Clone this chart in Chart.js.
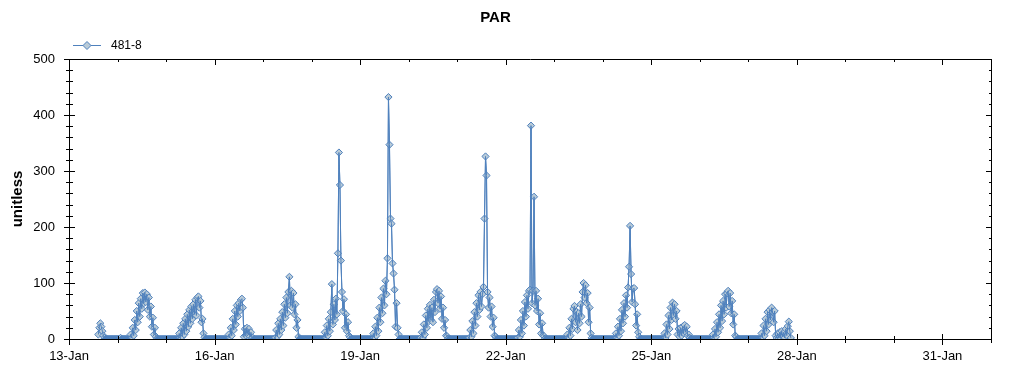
<!DOCTYPE html>
<html>
<head>
<meta charset="utf-8">
<title>PAR</title>
<script src="https://cdn.jsdelivr.net/npm/chart.js@4.4.1/dist/chart.umd.min.js"></script>
<style>
  html, body { margin: 0; padding: 0; background: #fff; }
  #chart { display: block; }
</style>
</head>
<body>
<canvas id="chart" width="1024" height="375"></canvas>
<script>
// ======================
// Data (half-hour readings, one array per day)
// ======================
const dayLabels = ["13-Jan", "14-Jan", "15-Jan", "16-Jan", "17-Jan", "18-Jan", "19-Jan",
  "20-Jan", "21-Jan", "22-Jan", "23-Jan", "24-Jan", "25-Jan", "26-Jan", "27-Jan",
  "28-Jan", "29-Jan", "30-Jan", "31-Jan", "1-Feb"];
const seriesName = "481-8";
const slotsPerDay = 48;
const firstSlot = 29; // logging starts 13-Jan 14:30

const par13 = [8, 20, 28, 22, 14, 6, 2, 0, 0, 0, 0, 0, 0, 0, 0, 0, 0, 0, 0];
const par14 = [
  0, 0, 0, 2, 0, 0, 0, 0, 0, 0, 0, 0,
  0, 8, 2, 20, 6, 34, 16, 50, 30, 64, 40, 72,
  54, 82, 64, 83, 66, 80, 52, 74, 40, 58, 22, 38,
  8, 20, 4, 1, 0, 0, 0, 0, 0, 0, 0, 0];
const par15 = [
  0, 0, 0, 0, 0, 0, 0, 0, 0, 0, 0, 0,
  0, 10, 2, 20, 4, 28, 8, 36, 14, 44, 22, 52,
  28, 58, 36, 62, 44, 70, 42, 74, 76, 56, 68, 30,
  36, 10, 3, 0, 0, 0, 0, 0, 0, 0, 0, 0];
const par16 = [
  0, 0, 0, 0, 0, 0, 0, 0, 0, 0, 0, 0,
  0, 0, 8, 2, 20, 6, 36, 16, 50, 26, 60, 40,
  64, 50, 70, 72, 56, 4, 18, 6, 20, 8, 18, 4,
  12, 2, 2, 0, 0, 0, 0, 0, 0, 0, 0, 0];
const par17 = [
  0, 0, 0, 0, 0, 0, 0, 0, 0, 0, 0, 0,
  2, 16, 4, 28, 8, 36, 16, 48, 24, 62, 38, 74,
  46, 84, 111, 60, 86, 56, 82, 44, 62, 20, 34, 4,
  0, 0, 0, 0, 0, 0, 0, 0, 0, 0, 0, 0];
const par18 = [
  0, 0, 0, 0, 0, 0, 0, 0, 0, 0, 0, 0,
  0, 12, 2, 24, 6, 36, 14, 48, 98, 26, 62, 34,
  72, 44, 153, 333, 275, 140, 84, 50, 71, 20, 44, 14,
  30, 6, 3, 0, 0, 0, 0, 0, 0, 0, 0, 0];
const par19 = [
  0, 0, 0, 0, 0, 0, 0, 0, 0, 0, 0, 0,
  0, 10, 2, 22, 6, 38, 14, 56, 30, 74, 46, 90,
  60, 104, 80, 144, 432, 347, 215, 206, 135, 117, 88, 22,
  64, 20, 8, 0, 0, 0, 0, 0, 0, 0, 0, 0];
const par20 = [
  0, 0, 0, 0, 0, 0, 0, 0, 0, 0, 0, 0,
  2, 12, 2, 26, 8, 42, 20, 54, 32, 61, 34, 56,
  30, 70, 48, 84, 89, 64, 86, 54, 76, 36, 56, 20,
  34, 6, 5, 1, 0, 0, 0, 0, 0, 0, 0, 0];
const par21 = [
  0, 0, 0, 0, 0, 0, 0, 0, 0, 0, 0, 0,
  2, 16, 4, 32, 10, 48, 24, 64, 40, 78, 52, 84,
  58, 80, 93, 215, 326, 292, 84, 56, 74, 40, 58, 22,
  38, 6, 4, 1, 0, 0, 0, 0, 0, 0, 0, 0];
const par22 = [
  0, 0, 0, 0, 0, 0, 0, 0, 0, 0, 0, 0,
  2, 16, 4, 34, 10, 50, 24, 66, 40, 78, 54, 86,
  88, 381, 64, 86, 254, 60, 86, 50, 72, 26, 46, 10,
  28, 6, 5, 1, 0, 0, 0, 0, 0, 0, 0, 0];
const par23 = [
  0, 0, 0, 0, 0, 0, 0, 0, 0, 0, 0, 0,
  0, 8, 2, 20, 6, 36, 18, 54, 59, 30, 48, 16,
  46, 28, 62, 40, 84, 100, 74, 96, 64, 82, 30, 56,
  10, 2, 0, 0, 0, 0, 0, 0, 0, 0, 0, 0];
const par24 = [
  0, 0, 0, 0, 0, 0, 0, 0, 0, 0, 0, 0,
  0, 10, 2, 22, 6, 36, 14, 52, 28, 64, 40, 78,
  56, 92, 129, 202, 116, 66, 90, 91, 62, 24, 44, 12,
  4, 0, 0, 0, 0, 0, 0, 0, 0, 0, 0, 0];
const par25 = [
  0, 0, 0, 0, 0, 0, 0, 0, 0, 0, 0, 0,
  0, 10, 2, 26, 8, 42, 18, 56, 34, 65, 42, 62,
  36, 50, 8, 18, 4, 20, 6, 22, 10, 25, 12, 22,
  6, 8, 2, 0, 0, 0, 0, 0, 0, 0, 0, 0];
const par26 = [
  0, 0, 0, 0, 0, 0, 0, 0, 0, 0, 0, 0,
  0, 8, 2, 18, 4, 30, 12, 44, 20, 60, 32, 68,
  44, 80, 56, 82, 86, 58, 82, 46, 68, 26, 44, 6,
  4, 0, 0, 0, 0, 0, 0, 0, 0, 0, 0, 0];
const par27 = [
  0, 0, 0, 0, 0, 0, 0, 0, 0, 0, 0, 0,
  0, 10, 2, 24, 6, 36, 14, 48, 26, 52, 34, 56,
  48, 30, 50, 6, 2, 10, 2, 12, 2, 14, 4, 12,
  2, 18, 6, 23, 31, 14, 2];

// ======================
// Styles
// ======================
const FONT = "'Liberation Sans', Arial, sans-serif";
const lineBlue = "#4f81bd";
const markerFill = "#b9cbd8";

const days = [par13, par14, par15, par16, par17, par18, par19, par20,
  par21, par22, par23, par24, par25, par26, par27];
const points = [];
days.forEach((vals, d) => {
  const start = d === 0 ? firstSlot : 0;
  vals.forEach((v, i) => points.push({ x: d + (start + i) / slotsPerDay, y: v }));
});

// the original's dense trace shows the connecting line over the markers
const lineOnTop = {
  id: "lineOnTop",
  afterDatasetsDraw(chart) {
    const { ctx, chartArea: a } = chart;
    const meta = chart.getDatasetMeta(0);
    ctx.save();
    ctx.beginPath();
    ctx.rect(a.left, a.top, a.right - a.left, a.bottom - a.top);
    ctx.clip();
    meta.dataset.draw(ctx, a);
    ctx.restore();
  }
};

// frame, tick marks and legend (drawn over the data like the original)
const framePlugin = {
  id: "frame",
  afterDraw(chart) {
    const { ctx, chartArea: a, scales: { x, y } } = chart;
    ctx.save();
    ctx.strokeStyle = "#000";
    ctx.lineWidth = 1;
    ctx.beginPath();
    ctx.rect(a.left + 0.5, a.top + 0.5, a.right - a.left, a.bottom - a.top);

    for (let d = 0; d < dayLabels.length; d++) {
      const px = Math.round(x.getPixelForValue(d)) + 0.5;
      const major = d % 3 === 0;
      const len = major ? 5 : 3;
      ctx.moveTo(px, a.bottom - len);
      ctx.lineTo(px, a.bottom + len + 1);
      ctx.moveTo(px, a.top);
      ctx.lineTo(px, a.top + (major ? 6 : 3));
    }
    for (let v = 0; v <= 500; v += 20) {
      const py = Math.round(y.getPixelForValue(v)) + 0.5;
      const major = v % 100 === 0;
      const len = major ? 5 : 3;
      ctx.moveTo(a.left - len, py);
      ctx.lineTo(a.left + len + 1, py);
      ctx.moveTo(a.right + 1, py);
      ctx.lineTo(a.right + 1 - (major ? 6 : 3), py);
    }
    ctx.stroke();

    // legend
    ctx.strokeStyle = lineBlue;
    ctx.beginPath();
    ctx.moveTo(73, 45.5);
    ctx.lineTo(101, 45.5);
    ctx.stroke();
    ctx.beginPath();
    ctx.moveTo(83, 45.5);
    ctx.lineTo(87, 41.5);
    ctx.lineTo(91, 45.5);
    ctx.lineTo(87, 49.5);
    ctx.closePath();
    ctx.fillStyle = markerFill;
    ctx.fill();
    ctx.stroke();
    ctx.fillStyle = "#000";
    ctx.font = "12px " + FONT;
    ctx.textBaseline = "middle";
    ctx.fillText(seriesName, 111, 46);
    ctx.restore();
  }
};

new Chart(document.getElementById("chart"), {
  type: "line",
  data: {
    datasets: [{
      label: seriesName,
      data: points,
      borderColor: lineBlue,
      borderWidth: 1,
      backgroundColor: markerFill,
      pointStyle: "rectRot",
      pointRadius: 3.6,
      pointBorderWidth: 1,
      pointBorderColor: lineBlue,
      // night readings pile up into a solid band along the axis
      pointBackgroundColor: c => (c.raw && c.raw.y === 0 ? lineBlue : markerFill),
      tension: 0
    }]
  },
  options: {
    responsive: false,
    animation: false,
    layout: { padding: { left: 0, right: 33, top: 0, bottom: 0 } },
    plugins: {
      legend: { display: false },
      tooltip: { enabled: false },
      title: {
        display: true,
        text: "PAR",
        color: "#000",
        font: { family: FONT, size: 15, weight: "bold" },
        padding: { top: 9, bottom: 32 }
      }
    },
    scales: {
      x: {
        type: "linear",
        min: 0,
        max: 19,
        afterFit: s => { s.height = 36; },
        grid: { display: false, drawTicks: false },
        border: { display: false },
        ticks: {
          stepSize: 1,
          autoSkip: false,
          maxRotation: 0,
          padding: 10,
          color: "#000",
          font: { family: FONT, size: 13 },
          callback: v => (Math.round(v) % 3 === 0 ? dayLabels[Math.round(v)] : "")
        }
      },
      y: {
        min: 0,
        max: 500,
        afterFit: s => { s.width = 69; },
        grid: { display: false, drawTicks: false },
        border: { display: false },
        ticks: {
          stepSize: 100,
          padding: 14,
          color: "#000",
          font: { family: FONT, size: 13 }
        },
        title: {
          display: true,
          text: "unitless",
          color: "#000",
          font: { family: FONT, size: 15, weight: "bold" },
          padding: { top: 9, bottom: 0 }
        }
      }
    }
  },
  plugins: [lineOnTop, framePlugin]
});
</script>
</body>
</html>
